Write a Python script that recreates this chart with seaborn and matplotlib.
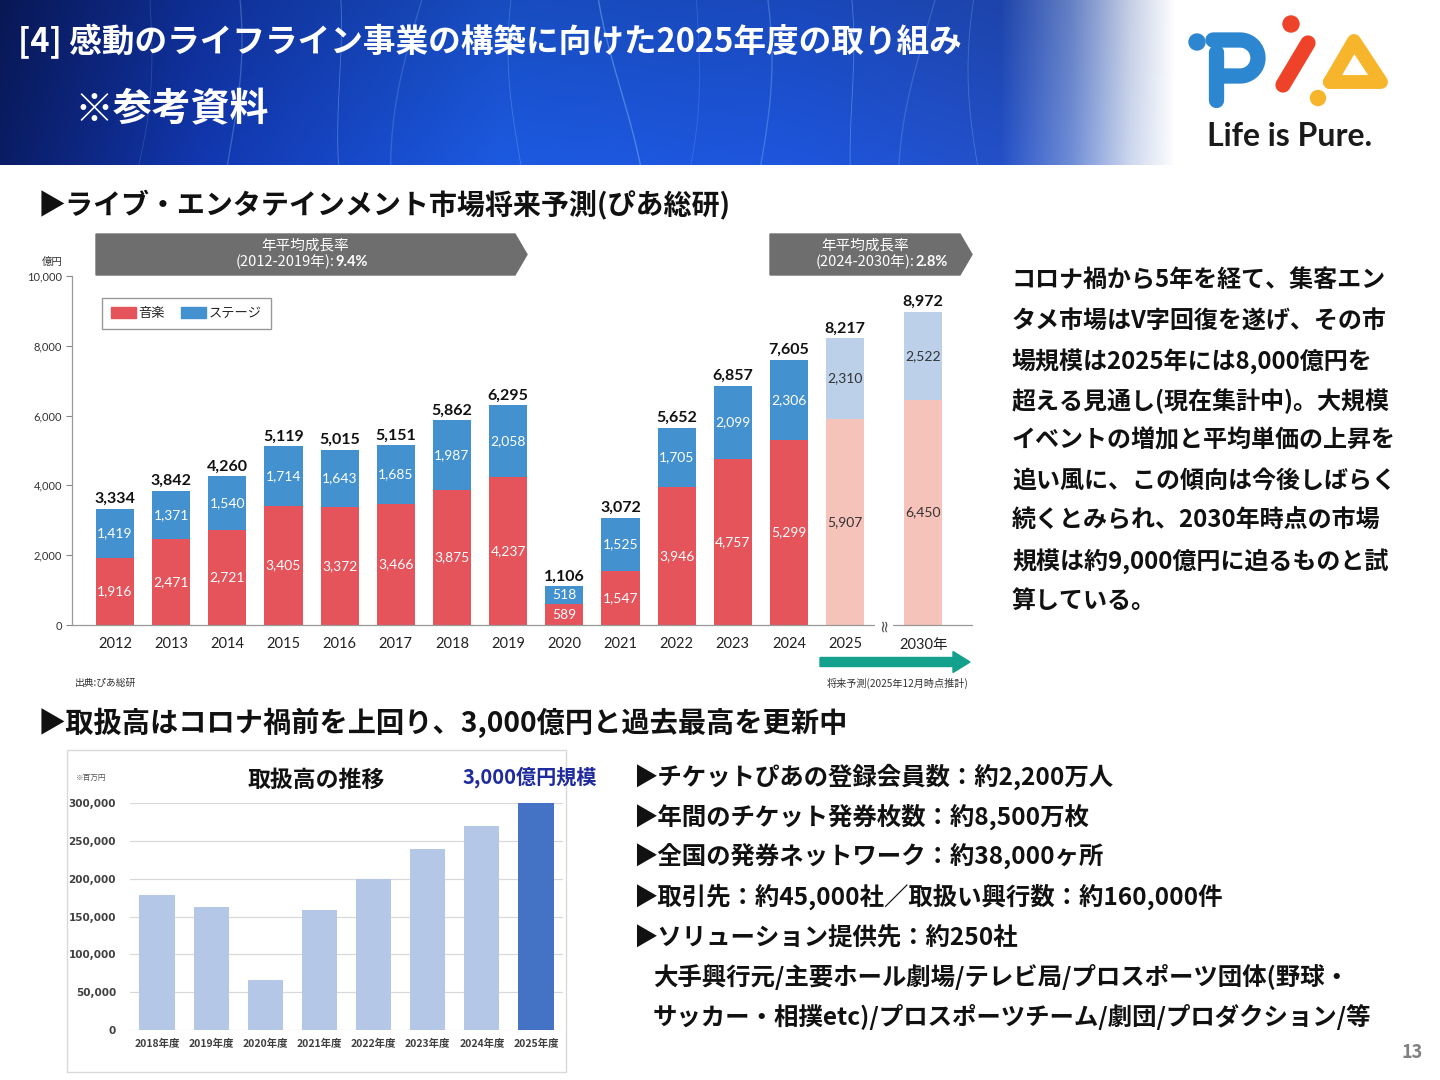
import numpy as np
import pandas as pd
import seaborn as sns
import matplotlib.pyplot as plt
from matplotlib.patches import Polygon, Rectangle, Circle, FancyArrow, Patch

# --- data: live entertainment market (100M yen) ---
years = ["2012", "2013", "2014", "2015", "2016", "2017", "2018", "2019",
         "2020", "2021", "2022", "2023", "2024", "2025", "2030年"]
music = [1916, 2471, 2721, 3405, 3372, 3466, 3875, 4237, 589, 1547, 3946, 4757, 5299, 5907, 6450]
stage = [1419, 1371, 1540, 1714, 1643, 1685, 1987, 2058, 518, 1525, 1705, 2099, 2306, 2310, 2522]
totals = [3334, 3842, 4260, 5119, 5015, 5151, 5862, 6295, 1106, 3072, 5652, 6857, 7605, 8217, 8972]
phase = ["実績"] * 13 + ["予測"] * 2

# --- data: ticket handling volume (million yen) ---
fy_labels = ["2018年度", "2019年度", "2020年度", "2021年度", "2022年度", "2023年度", "2024年度", "2025年度"]
handling = [179000, 163000, 66000, 159000, 200000, 240000, 270000, 300000]
fy_flag = ["past"] * 7 + ["now"]

title = "[4] 感動のライフライン事業の構築に向けた2025年度の取り組み"
subtitle = "※参考資料"
heading1 = "▶ライブ・エンタテインメント市場将来予測(ぴあ総研)"
heading2 = "▶取扱高はコロナ禍前を上回り、3,000億円と過去最高を更新中"
para_lines = ["コロナ禍から5年を経て、集客エン",
              "タメ市場はV字回復を遂げ、その市",
              "場規模は2025年には8,000億円を",
              "超える見通し(現在集計中)。大規模",
              "イベントの増加と平均単価の上昇を",
              "追い風に、この傾向は今後しばらく",
              "続くとみられ、2030年時点の市場",
              "規模は約9,000億円に迫るものと試",
              "算している。"]
bullets = ["▶チケットぴあの登録会員数：約2,200万人",
           "▶年間のチケット発券枚数：約8,500万枚",
           "▶全国の発券ネットワーク：約38,000ヶ所",
           "▶取引先：約45,000社／取扱い興行数：約160,000件",
           "▶ソリューション提供先：約250社",
           "大手興行元/主要ホール劇場/テレビ局/プロスポーツ団体(野球・",
           "サッカー・相撲etc)/プロスポーツチーム/劇団/プロダクション/等"]

RED, BLUE = "#E5535B", "#4391CE"
PINK, LBLUE = "#F6C3BA", "#BCD0EA"

sns.set_theme(style="white")
plt.rcParams["font.family"] = ["Noto Sans CJK JP", "DejaVu Sans"]
NUM = ["Lato", "Noto Sans CJK JP", "DejaVu Sans"]

fig = plt.figure(figsize=(14.4, 10.8), dpi=100)

# overlay in pixel coordinates for slide furniture
bg = fig.add_axes([0, 0, 1, 1], zorder=0)
bg.set_xlim(0, 1440)
bg.set_ylim(1080, 0)
bg.axis("off")

# header gradient band
xs = np.array([0, 200, 500, 800, 1000, 1070, 1130, 1175, 1440])
rs = np.array([10, 18, 28, 30, 35, 110, 205, 255, 255])
gs = np.array([28, 55, 90, 85, 80, 140, 215, 255, 255])
bs = np.array([100, 175, 225, 220, 200, 215, 238, 255, 255])
xx = np.arange(1440)
row = np.stack([np.interp(xx, xs, rs), np.interp(xx, xs, gs), np.interp(xx, xs, bs)], axis=-1) / 255
shade = np.linspace(0.85, 1.0, 165)[:, None, None]
fade = np.clip((xx - 1000) / 175, 0, 1)[None, :, None]
band = row[None, :, :] * (shade * (1 - fade) + fade)
band = np.clip(band, 0, 1)
bg.imshow(band, extent=(0, 1440, 165, 0), aspect="auto", zorder=0)
streak_x = [150, 230, 330, 420, 520, 610, 700, 760, 840, 930, 980]
for i, x0 in enumerate(streak_x):
    t = np.linspace(0, 165, 60)
    bg.plot(x0 + 12 * np.sin(t / 70 + i) + (i % 3 - 1) * t * 0.12, t,
            color="#a8dcff", alpha=0.18 + 0.08 * (i % 3), lw=0.6 + 0.4 * (i % 2), zorder=1)

bg.text(18, 42, title, color="white", fontsize=23.5, fontweight="bold", va="center", ha="left", zorder=3)
bg.text(75, 110, subtitle, color="white", fontsize=28, fontweight="bold", va="center", ha="left", zorder=3)

# logo
blue_l, red_l, yel_l = "#2C86D0", "#EE4328", "#F7B52B"
bg.add_patch(Circle((1197, 42), 8, color=blue_l, zorder=3))
th = np.linspace(-np.pi / 2, np.pi / 2, 40)
px = np.concatenate([[1213], 1240 + 18 * np.cos(th), [1222]])
py = np.concatenate([[40], 58 + 18 * np.sin(th), [76]])
bg.plot(px, py, color=blue_l, lw=11, solid_capstyle="round", solid_joinstyle="round", zorder=3)
bg.plot([1216, 1216], [52, 100], color=blue_l, lw=11, solid_capstyle="round", zorder=3)
bg.add_patch(Circle((1291, 24), 8, color=red_l, zorder=3))
bg.plot([1308, 1283], [43, 85], color=red_l, lw=11, solid_capstyle="round", zorder=3)
bg.plot([1330, 1354, 1381, 1330], [82, 41, 82, 82], color=yel_l, lw=10,
        solid_capstyle="round", solid_joinstyle="round", zorder=3)
bg.add_patch(Circle((1318, 98), 7.5, color=yel_l, zorder=3))
bg.text(1290, 137, "Life is Pure.", fontsize=23, fontweight="bold", color="#1a1a1a",
        ha="center", va="center", family=NUM, zorder=3)

# headings and text blocks
bg.text(38, 205, heading1, fontsize=20.2, fontweight="bold", color="#111111", va="center")
bg.text(38, 723, heading2, fontsize=20.3, fontweight="bold", color="#111111", va="center")
for i, line in enumerate(para_lines):
    bg.text(1012, 281 + 40 * i, line, fontsize=17.3, fontweight="bold", color="#111111", va="center")
for i, line in enumerate(bullets):
    x0 = 633 if line.startswith("▶") else 653
    bg.text(x0, 777 + 40 * i, line, fontsize=17.6, fontweight="bold", color="#111111", va="center")
bg.text(1412, 1052, "13", fontsize=13, fontweight="bold", color="#808080", ha="center", va="center")

# growth-rate banners
for (x0, x1, period, rate, split) in [(96, 527, "(2012-2019年):", "9.4%", 335),
                                      (770, 972, "(2024-2030年):", "2.8%", 915)]:
    bg.add_patch(Polygon([(x0, 234), (x1 - 12, 234), (x1, 254.5), (x1 - 12, 275), (x0, 275)],
                         closed=True, color="#6E6E6E", zorder=2))
    bg.text((x0 + x1 - 12) / 2, 246, "年平均成長率", color="white", fontsize=10.5, ha="center", va="center", zorder=3)
    bg.text(split, 262, period, color="white", fontsize=10.5, ha="right", va="center", zorder=3)
    bg.text(split, 262, rate, color="white", fontsize=10.5, fontweight="bold", ha="left", va="center",
            family=NUM, zorder=3)

bg.text(52, 262, "億円", fontsize=7.5, color="#333333", ha="center", va="center")
bg.text(75, 683, "出典:ぴあ総研", fontsize=7, color="#333333", ha="left", va="center")
bg.text(898, 683, "将来予測(2025年12月時点推計)", fontsize=7.3, color="#333333", ha="center", va="center")
bg.add_patch(FancyArrow(820, 662, 150, 0, width=9, head_width=21, head_length=17,
                        length_includes_head=True, color="#13A08C", zorder=2))

# --- top chart: stacked bars ---
gap = 1.39
pos = [float(i) for i in range(len(years) - 1)] + [len(years) - 2 + gap]
df = pd.DataFrame({"pos": pos, "year": years, "music": music, "stage": stage,
                   "total": totals, "phase": phase})

ax = fig.add_axes([72 / 1440, (1080 - 625) / 1080, 900 / 1440, 349 / 1080], zorder=2)
ax.set_facecolor("none")
sns.barplot(data=df, x="pos", y="total", hue="phase", palette={"実績": BLUE, "予測": LBLUE},
            native_scale=True, dodge=False, width=0.68, saturation=1, linewidth=0,
            errorbar=None, legend=False, ax=ax)
sns.barplot(data=df, x="pos", y="music", hue="phase", palette={"実績": RED, "予測": PINK},
            native_scale=True, dodge=False, width=0.68, saturation=1, linewidth=0,
            errorbar=None, legend=False, ax=ax)
for p, m, s, t, ph in zip(pos, music, stage, totals, phase):
    c = "white" if ph == "実績" else "#333333"
    ax.text(p, m / 2, f"{m:,}", ha="center", va="center", color=c, fontsize=10, family=NUM)
    ax.text(p, m + (t - m) / 2, f"{s:,}", ha="center", va="center", color=c, fontsize=10, family=NUM)
    ax.annotate(f"{t:,}", (p, t), xytext=(0, 2), textcoords="offset points", ha="center", va="bottom",
                fontsize=11.5, fontweight="bold", color="#111111", family=NUM)
ax.set_xlim(-0.766, pos[-1] + 0.87)
ax.set_ylim(0, 10000)
ax.set_yticks(range(0, 10001, 2000))
ax.set_yticklabels([f"{v:,}" for v in range(0, 10001, 2000)], fontsize=8, color="#333333", family=NUM)
ax.set_xticks(pos)
ax.set_xticklabels(years, fontsize=10.5, color="#222222", family=NUM)
ax.tick_params(axis="y", left=True, length=4, width=0.8, color="#888888", pad=3)
ax.tick_params(axis="x", bottom=False, pad=3)
ax.set_xlabel("")
ax.set_ylabel("")
for sp in ["top", "right"]:
    ax.spines[sp].set_visible(False)
for sp in ["left", "bottom"]:
    ax.spines[sp].set_color("#999999")
    ax.spines[sp].set_linewidth(0.9)
ax.text((pos[-2] + pos[-1]) / 2, 0, "≈", rotation=90, ha="center", va="center", fontsize=12,
        color="#555555", family=["DejaVu Sans"], clip_on=False, zorder=5,
        bbox=dict(facecolor="white", edgecolor="none", pad=0.3))
ax.legend(handles=[Patch(color=RED, label="音楽"), Patch(color=BLUE, label="ステージ")],
          loc="upper left", bbox_to_anchor=(0.033, 0.937), ncol=2, fontsize=9.5,
          frameon=True, fancybox=False, edgecolor="#999999", framealpha=1,
          handlelength=1.9, handleheight=0.9, handletextpad=0.2, columnspacing=1.2,
          borderpad=0.7, borderaxespad=0)

# --- bottom chart: handling volume ---
bg.add_patch(Rectangle((67, 750), 499, 322, fill=False, edgecolor="#D9D9D9", lw=1, zorder=1))
bg.text(316, 780, "取扱高の推移", fontsize=16.5, fontweight="bold", color="#111111", ha="center", va="center")
bg.text(530, 777, "3,000億円規模", fontsize=14.5, fontweight="bold", color="#1F2A9C", ha="center", va="center")
bg.text(76, 778, "※百万円", fontsize=5.5, color="#555555", ha="left", va="center")

ax2 = fig.add_axes([130 / 1440, (1080 - 1030) / 1080, 433 / 1440, 226.7 / 1080], zorder=2)
ax2.set_facecolor("none")
sns.barplot(x=fy_labels, y=handling, hue=fy_flag, palette={"past": "#B4C7E7", "now": "#4472C4"},
            dodge=False, width=0.65, saturation=1, linewidth=0, errorbar=None, legend=False, ax=ax2)
ax2.set_ylim(0, 300000)
ax2.set_xlim(-0.5, len(fy_labels) - 0.5)
ax2.set_yticks(range(0, 300001, 50000))
ax2.set_yticklabels([f"{v:,}" for v in range(0, 300001, 50000)], fontsize=7.5,
                    fontweight="bold", color="#404040", family=["DejaVu Sans"])
ax2.set_xticks(range(len(fy_labels)))
ax2.set_xticklabels(fy_labels, fontsize=7.5, fontweight="bold", color="#404040")
ax2.yaxis.grid(True, color="#D9D9D9", lw=0.9)
ax2.set_axisbelow(True)
ax2.tick_params(axis="y", length=0, pad=10)
ax2.tick_params(axis="x", length=0, pad=6)
for sp in ax2.spines.values():
    sp.set_visible(False)

fig.savefig("out.png", dpi=100)
